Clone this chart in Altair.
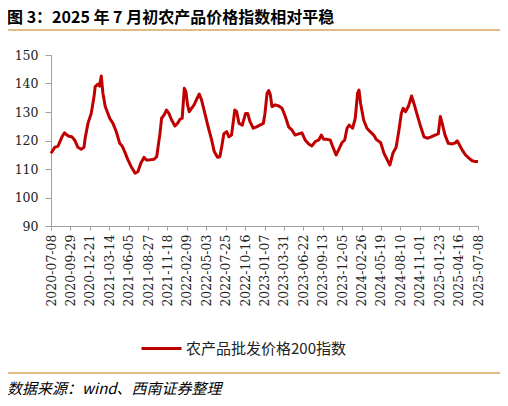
import altair as alt
import pandas as pd

dates = [
    "2020-07-08", "2020-07-24", "2020-08-07", "2020-08-24", "2020-09-04", "2020-09-19",
    "2020-10-05", "2020-10-17", "2020-10-31", "2020-11-14", "2020-11-26", "2020-12-01",
    "2020-12-13", "2020-12-27", "2021-01-08", "2021-01-13", "2021-01-25", "2021-02-01",
    "2021-02-08", "2021-02-15", "2021-02-25", "2021-03-16", "2021-03-30", "2021-04-13",
    "2021-04-28", "2021-05-08", "2021-05-19", "2021-06-02", "2021-06-16", "2021-07-03",
    "2021-07-15", "2021-07-27", "2021-08-10", "2021-08-19", "2021-09-03", "2021-09-21",
    "2021-10-03", "2021-10-11", "2021-10-17", "2021-10-24", "2021-11-04", "2021-11-14",
    "2021-11-24", "2021-12-06", "2021-12-20", "2021-12-31", "2022-01-10", "2022-01-20",
    "2022-01-29", "2022-02-05", "2022-02-12", "2022-02-19", "2022-03-01", "2022-03-12",
    "2022-03-23", "2022-04-03", "2022-04-13", "2022-04-27", "2022-05-11", "2022-05-26",
    "2022-06-06", "2022-06-20", "2022-06-30", "2022-07-08", "2022-07-17", "2022-07-29",
    "2022-08-08", "2022-08-19", "2022-09-02", "2022-09-10", "2022-09-20", "2022-10-04",
    "2022-10-18", "2022-10-27", "2022-11-06", "2022-11-20", "2022-12-04", "2022-12-18",
    "2023-01-02", "2023-01-09", "2023-01-18", "2023-01-25", "2023-02-01", "2023-02-08",
    "2023-02-22", "2023-03-09", "2023-03-23", "2023-04-06", "2023-04-20", "2023-05-04",
    "2023-05-18", "2023-06-02", "2023-06-16", "2023-06-30", "2023-07-15", "2023-07-29",
    "2023-08-12", "2023-08-27", "2023-09-07", "2023-09-17", "2023-10-01", "2023-10-15",
    "2023-10-26", "2023-11-09", "2023-11-20", "2023-12-04", "2023-12-16", "2023-12-26",
    "2024-01-04", "2024-01-19", "2024-01-30", "2024-02-09", "2024-02-15", "2024-02-22",
    "2024-03-06", "2024-03-20", "2024-04-03", "2024-04-18", "2024-04-29", "2024-05-18",
    "2024-06-01", "2024-06-15", "2024-06-26", "2024-07-09", "2024-07-23", "2024-08-04",
    "2024-08-14", "2024-08-22", "2024-09-01", "2024-09-13", "2024-09-27", "2024-10-07",
    "2024-10-21", "2024-11-05", "2024-11-19", "2024-12-03", "2024-12-17", "2025-01-05",
    "2025-01-19", "2025-01-28", "2025-02-05", "2025-02-17", "2025-03-03", "2025-03-20",
    "2025-04-03", "2025-04-10", "2025-04-20", "2025-05-01", "2025-05-16", "2025-05-30",
    "2025-06-13", "2025-06-28", "2025-07-08",
]
values = [
    115.5, 117.6, 118.0, 121.3, 122.7, 121.6,
    121.3, 120.2, 117.6, 116.9, 117.6, 120.8,
    126.0, 129.5, 135.4, 138.9, 139.8, 139.1,
    142.6, 136.6, 131.9, 127.8, 126.0, 123.1,
    119.0, 118.1, 116.1, 113.2, 110.8, 108.5,
    109.1, 112.0, 114.1, 113.2, 113.2, 113.4,
    114.3, 119.0, 122.5, 127.8, 129.0, 130.7,
    129.5, 127.2, 125.1, 126.0, 127.4, 127.8,
    138.3, 137.1, 132.5, 130.1, 131.3, 132.5,
    134.5, 136.3, 134.2, 129.5, 124.8, 120.2,
    116.1, 114.1, 114.3, 117.8, 122.3, 123.1,
    121.3, 121.9, 130.7, 130.1, 126.0, 125.4,
    129.5, 129.5, 126.6, 124.3, 124.8, 125.4,
    126.0, 129.5, 136.6, 137.5, 136.0, 131.9,
    132.5, 132.1, 131.3, 128.4, 124.8, 123.7,
    121.9, 122.3, 122.7, 120.2, 118.8, 118.1,
    119.6, 120.2, 121.9, 120.4, 120.4, 120.2,
    117.8, 114.9, 116.7, 119.2, 120.2, 124.3,
    125.4, 124.3, 127.8, 136.6, 137.7, 133.0,
    127.2, 124.3, 123.1, 121.9, 120.4, 119.2,
    115.5, 113.2, 111.4, 115.5, 117.6, 123.7,
    129.5, 131.3, 130.1, 131.9, 135.6, 133.0,
    129.0, 124.8, 121.3, 120.8, 121.2, 121.9,
    122.3, 128.4, 126.0, 121.9, 119.0, 118.8,
    119.2, 119.9, 118.4, 116.7, 114.9, 113.8,
    112.9, 112.6, 112.6,
]
series_name = "农产品批发价格200指数"
tick_dates = [
    "2020-07-08", "2020-09-29", "2020-12-21", "2021-03-14", "2021-06-05", "2021-08-27",
    "2021-11-18", "2022-02-09", "2022-05-03", "2022-07-25", "2022-10-16", "2023-01-07",
    "2023-03-31", "2023-06-22", "2023-09-13", "2023-12-05", "2024-02-26", "2024-05-19",
    "2024-08-10", "2024-11-01", "2025-01-23", "2025-04-16", "2025-07-08",
]
y_ticks = [90, 100, 110, 120, 130, 140, 150]
title_text = "图 3：2025 年 7 月初农产品价格指数相对平稳"
source_text = "数据来源：wind、西南证券整理"

df = pd.DataFrame({"date": dates, "value": values, "series": series_name})
one = pd.DataFrame({"k": [0]})


def dt(s):
    y, m, d = (int(p) for p in s.split("-"))
    return alt.DateTime(year=y, month=m, date=d, utc=True)


W, H = 427, 171
LINE_RED = "#C00000"
GOLD = "#D6A45A"
AXIS_GREY = "#A0A0A0"
SERIF = "DejaVu Serif"
CJK = "Noto Sans CJK SC"

line = alt.Chart(df).mark_line(strokeWidth=3, strokeJoin="round").encode(
    x=alt.X(
        "date:T",
        scale=alt.Scale(type="utc", domain=[dt(tick_dates[0]), dt(tick_dates[-1])]),
        axis=alt.Axis(
            values=[dt(s) for s in tick_dates],
            labelExpr="utcFormat(datum.value, '%Y-%m-%d')",
            labelAngle=270,
            labelFont=SERIF,
            labelFontSize=12.5,
            labelColor="#222222",
            labelPadding=4,
            tickSize=4,
            tickColor=AXIS_GREY,
            domainColor=AXIS_GREY,
            grid=False,
            title=None,
            labelOverlap=False,
            labelFlush=False,
        ),
    ),
    y=alt.Y(
        "value:Q",
        scale=alt.Scale(domain=[90, 150], nice=False, zero=False),
        axis=alt.Axis(
            values=y_ticks,
            labelFont=SERIF,
            labelFontSize=12.5,
            labelColor="#222222",
            labelPadding=7,
            tickSize=6,
            tickColor=AXIS_GREY,
            domainColor=AXIS_GREY,
            grid=False,
            title=None,
        ),
    ),
    color=alt.Color(
        "series:N",
        scale=alt.Scale(range=[LINE_RED]),
        legend=alt.Legend(
            title=None,
            orient="none",
            legendX=89,
            legendY=272,
            symbolType="stroke",
            symbolSize=1600,
            symbolStrokeWidth=3,
            labelFont=CJK,
            labelFontSize=15,
            labelColor="#222222",
            labelLimit=400,
            labelOffset=3,
            padding=0,
        ),
    ),
)

title = alt.Chart(one).mark_text(
    text=title_text, font=CJK, fontSize=16, fontWeight="bold", align="left",
    baseline="middle", color="#000000",
).encode(x=alt.value(-44), y=alt.value(-37))

source = alt.Chart(one).mark_text(
    text=source_text, font=CJK, fontSize=15, fontStyle="italic", align="left",
    baseline="middle", color="#000000",
).encode(x=alt.value(-44), y=alt.value(334))

rule_top = alt.Chart(one).mark_rule(color=GOLD, strokeWidth=1.5).encode(
    x=alt.value(-45), x2=alt.value(451), y=alt.value(-25)
)
rule_bottom = alt.Chart(one).mark_rule(color=GOLD, strokeWidth=1.5).encode(
    x=alt.value(-45), x2=alt.value(451), y=alt.value(318)
)

chart = alt.layer(line, title, source, rule_top, rule_bottom).properties(
    width=W,
    height=H,
    autosize=alt.AutoSizeParams(type="none"),
    padding={"left": 43, "top": 47, "right": 22, "bottom": 172},
).configure_view(stroke=None)

chart.save("out.html", embed_options={"renderer": "svg", "actions": False})
